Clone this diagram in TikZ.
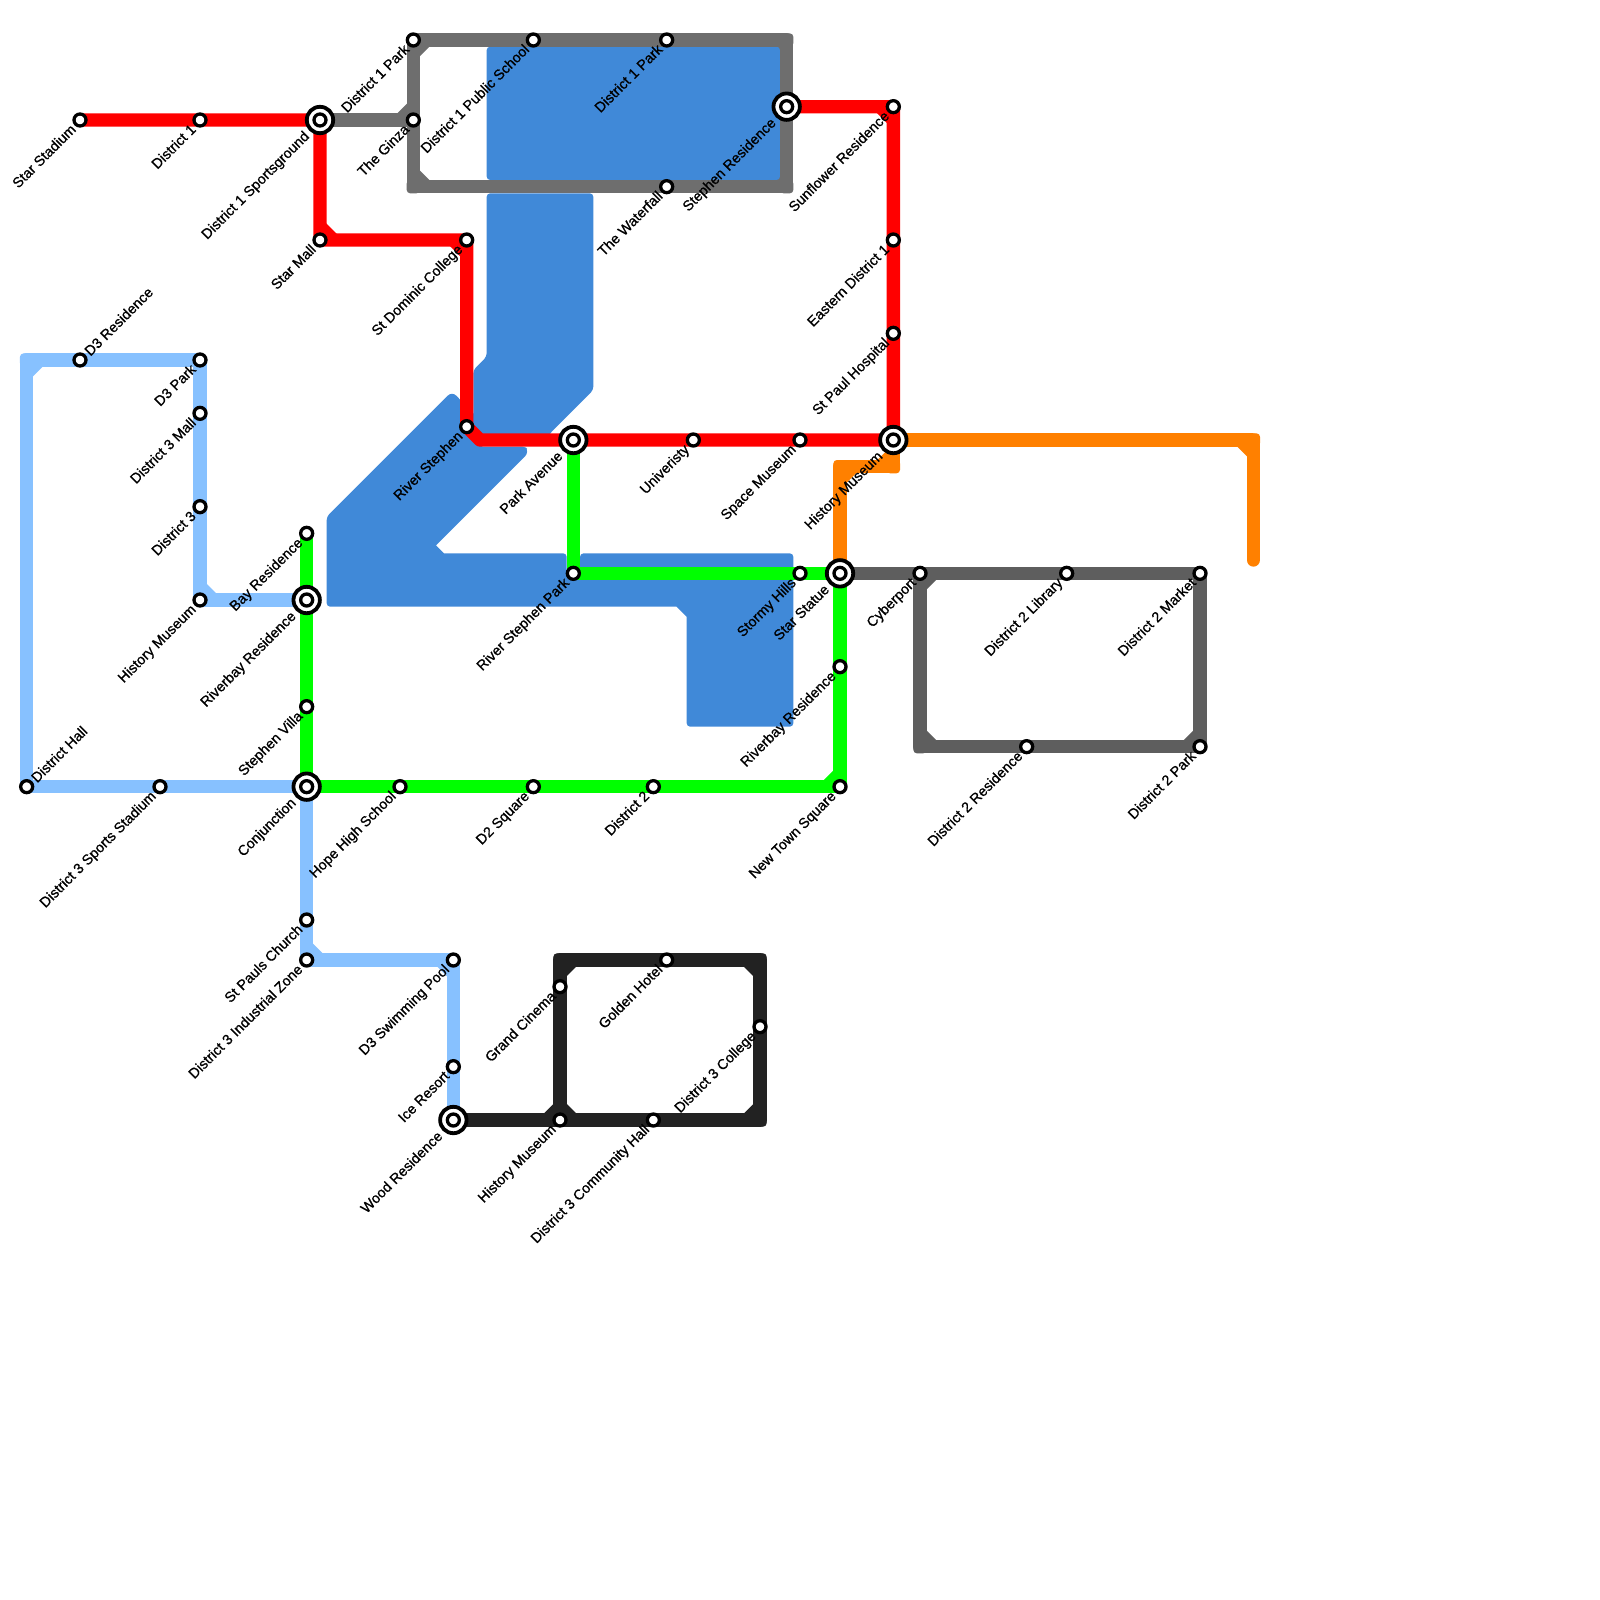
\documentclass[tikz,border=0pt]{standalone}
\usepackage{fontspec}
\setmainfont[FakeBold=0.9]{Liberation Sans}
\pgfdeclarelayer{bg}
\pgfsetlayers{bg,main}
\definecolor{cred}{HTML}{FF0000}
\definecolor{cgreen}{HTML}{00FF00}
\definecolor{corange}{HTML}{FF8000}
\definecolor{clight}{HTML}{87C1FF}
\definecolor{cgrey}{HTML}{6E6E6E}
\definecolor{cdark}{HTML}{5E5E5E}
\definecolor{cblack}{HTML}{222222}
\definecolor{cblock}{HTML}{4089D8}
\tikzset{
  stnmark/.style={circle,draw=black,fill=white,line width=3.3pt,minimum size=12pt,inner sep=0pt},
  stnbig/.style={circle,draw=black,fill=white,line width=3.8pt,minimum size=26.4pt,inner sep=0pt},
  lab/.style={rotate=45,inner sep=0pt,text height=10.2pt,text depth=0pt,font=\fontsize{14.3pt}{14.3pt}\selectfont,text=black},
  lin/.style={line width=13.333pt,line join=round,line cap=butt},
  block/.style={fill=cblock,rounded corners=3.5pt},
}
\newcommand{\stS}[4]{\node[stnmark] (#1) at (#2,#3) {};
  \node[lab,anchor=east] (#1L) at ([shift={(225:9.5pt)}]#1.center) {#4};}
\newcommand{\stU}[4]{\node[stnmark] (#1) at (#2,#3) {};
  \node[lab,anchor=west] (#1L) at ([shift={(45:9.5pt)}]#1.center) {#4};}
\newcommand{\stB}[4]{\node[stnbig] (#1) at (#2,#3) {};
  \node[stnmark] (#1I) at (#2,#3) {};
  \node[lab,anchor=east] (#1L) at ([shift={(225:19pt)}]#1.center) {#4};}
\newcommand{\crn}[2]{\fill[#1,rounded corners=3.5pt] ([shift={(-6.667pt,-6.667pt)}]#2) rectangle ([shift={(6.667pt,6.667pt)}]#2);}
\begin{document}
\begin{tikzpicture}[x=13.3333pt,y=-13.3333pt]
\useasboundingbox (0,0) rectangle (120,120);
% corner points
\coordinate (k1) at (31,14);
\coordinate (k2) at (59,3);
\coordinate (k3) at (59,14);
\coordinate (k4) at (2,27);
\coordinate (k5) at (94,33);
\coordinate (k6) at (94,42);
\coordinate (k7) at (42,72);
\coordinate (k8) at (57,72);
\coordinate (k9) at (57,84);
\coordinate (k10) at (69,56);
\coordinate (k11) at (63,35);
\coordinate (k12) at (67,35);
\coordinate (k13) at (36,33);
% red
\stS{starstadium}{6}{9}{Star Stadium}
\stS{districtone}{15}{9}{District 1}
\stB{sportsground}{24}{9}{District 1 Sportsground}
\stS{starmall}{24}{18}{Star Mall}
\stS{stdominic}{35}{18}{St Dominic College}
\stS{riverstephen}{35}{32}{River Stephen}
\stB{parkavenue}{43}{33}{Park Avenue}
\stS{univ}{52}{33}{Univeristy}
\stS{spacemuseum}{60}{33}{Space Museum}
\stB{historymuseum}{67}{33}{History Museum}
\stS{stpaul}{67}{25}{St Paul Hospital}
\stS{easternone}{67}{18}{Eastern District 1}
\stS{sunflower}{67}{8}{Sunflower Residence}
\stB{stephenres}{59}{8}{Stephen Residence}
% grey
\stS{ginza}{31}{9}{The Ginza}
\stS{dopark}{31}{3}{District 1 Park}
\stS{dopublic}{40}{3}{District 1 Public School}
\stS{doparktwo}{50}{3}{District 1 Park}
\stS{waterfall}{50}{14}{The Waterfall}
% green
\stB{starstatue}{63}{43}{Star Statue}
\stS{stormy}{60}{43}{Stormy Hills}
\stS{rsp}{43}{43}{River Stephen Park}
\stS{riverbayE}{63}{50}{Riverbay Residence}
\stS{newtown}{63}{59}{New Town Square}
\stS{dtwo}{49}{59}{District 2}
\stS{dtwosq}{40}{59}{D2 Square}
\stS{hope}{30}{59}{Hope High School}
\stB{conjunction}{23}{59}{Conjunction}
\stS{villa}{23}{53}{Stephen Villa}
\stB{riverbayW}{23}{45}{Riverbay Residence}
\stS{bayres}{23}{40}{Bay Residence}
% light blue
\stU{districthall}{2}{59}{District Hall}
\stU{dthreeres}{6}{27}{D3 Residence}
\stS{dthreepark}{15}{27}{D3 Park}
\stS{dthreemall}{15}{31}{District 3 Mall}
\stS{dthree}{15}{38}{District 3}
\stS{historyW}{15}{45}{History Museum}
\stS{sportsstad}{12}{59}{District 3 Sports Stadium}
\stS{stpauls}{23}{69}{St Pauls Church}
\stS{industrial}{23}{72}{District 3 Industrial Zone}
\stS{pool}{34}{72}{D3 Swimming Pool}
\stS{ice}{34}{80}{Ice Resort}
\stB{wood}{34}{84}{Wood Residence}
% black
\stS{historyS}{42}{84}{History Museum}
\stS{community}{49}{84}{District 3 Community Hall}
\stS{college}{57}{77}{District 3 College}
\stS{golden}{50}{72}{Golden Hotel}
\stS{cinema}{42}{74}{Grand Cinema}
% dark grey
\stS{cyberport}{69}{43}{Cyberport}
\stS{library}{80}{43}{District 2 Library}
\stS{market}{90}{43}{District 2 Market}
\stS{dtpark}{90}{56}{District 2 Park}
\stS{dtres}{77}{56}{District 2 Residence}
\begin{pgfonlayer}{bg}
% grey filling behind the rounded block corners
\fill[cgrey] (58,3.4) rectangle (58.6,4);
\fill[cgrey] (58,13) rectangle (58.6,13.6);
% blue blocks
\fill[block] (36.5,3.5) -- (58.5,3.5) -- (58.5,13.5) -- (36.5,13.5) -- cycle;
\fill[block] (36.5,14.5) -- (44.5,14.5) -- (44.5,29.25) -- (41.25,32.5) -- (41,33) -- (35.5,33) -- (35.5,27.75) -- (36.5,26.75) -- cycle;
\fill[block] (24.5,38.75) [rounded corners=6pt] -- (33.9,29.35) [rounded corners=3pt] -- (36,31.5) -- (36,33.5) -- (39.4,33.5) [rounded corners=6pt] -- (39.7,33.9) [rounded corners=0pt] -- (32.7,40.9) -- (33.3,41.5) [rounded corners=3.5pt] -- (42.5,41.5) -- (42.5,43) -- (43.5,43) -- (43.5,41.5) -- (59.5,41.5) -- (59.5,54.5) -- (51.5,54.5) [rounded corners=0pt] -- (51.5,46.25) -- (50.75,45.5) [rounded corners=3.5pt] -- (24.5,45.5) -- cycle;
% light blue line
\begin{scope}[every path/.style={lin,draw=clight}]
\draw (districthall.center) -- (k4) -- (dthreeres.center) -- (dthreepark.center) -- (dthreemall.center) -- (dthree.center) -- (historyW.center) -- (riverbayW.center);
\draw (k4) ++(0,1) -- ++(1,-1);
\draw (historyW.center) ++(0,-1) -- ++(1,1);
\draw (districthall.center) -- (sportsstad.center) -- (conjunction.center) -- (stpauls.center) -- (industrial.center) -- (pool.center) -- (ice.center) -- (wood.center);
\draw (industrial.center) ++(0,-1) -- ++(1,1);
\draw (pool.center) ++(-1,0) -- ++(1,1);
\end{scope}
\crn{clight}{k4}
% green line
\begin{scope}[every path/.style={lin,draw=cgreen}]
\draw (bayres.center) -- (riverbayW.center) -- (villa.center) -- (conjunction.center) -- (hope.center) -- (dtwosq.center) -- (dtwo.center) -- (newtown.center) -- (riverbayE.center) -- (starstatue.center) -- (stormy.center) -- (rsp.center) -- (parkavenue.center);
\draw (newtown.center) ++(-1,0) -- ++(1,-1);
\end{scope}
% grey line
\begin{scope}[every path/.style={lin,draw=cgrey}]
\draw (sportsground.center) -- (ginza.center) -- (dopark.center) -- (dopublic.center) -- (doparktwo.center) -- (k2) -- (stephenres.center) -- (k3) -- (waterfall.center) -- (k1) -- (ginza.center);
\draw (ginza.center) ++(-1,0) -- ++(1,-1);
\draw (dopark.center) ++(0,1) -- ++(1,-1);
\draw (k1) ++(0,-1) -- ++(1,1);
\end{scope}
\crn{cgrey}{k1}\crn{cgrey}{k2}\crn{cgrey}{k3}
% dark grey line
\begin{scope}[every path/.style={lin,draw=cdark}]
\draw (starstatue.center) -- (cyberport.center) -- (library.center) -- (market.center) -- (dtpark.center) -- (dtres.center) -- (k10) -- (cyberport.center);
\draw (cyberport.center) ++(0,1) -- ++(1,-1);
\draw (k10) ++(0,-1) -- ++(1,1);
\draw (dtpark.center) ++(-1,0) -- ++(1,-1);
\end{scope}
\crn{cdark}{k10}
% black line
\begin{scope}[every path/.style={lin,draw=cblack}]
\draw (wood.center) -- (historyS.center) -- (community.center) -- (k9) -- (college.center) -- (k8) -- (golden.center) -- (k7) -- (cinema.center) -- (historyS.center);
\draw (k7) ++(0,1) -- ++(1,-1);
\draw (k8) ++(-1,0) -- ++(1,1);
\draw (k9) ++(-1,0) -- ++(1,-1);
\draw (historyS.center) ++(-1,0) -- ++(1,-1);
\draw (historyS.center) ++(0,-1) -- ++(1,1);
\end{scope}
\crn{cblack}{k7}\crn{cblack}{k8}\crn{cblack}{k9}
% orange line
\begin{scope}[every path/.style={lin,draw=corange}]
\draw (historymuseum.center) -- (k5);
\draw[line cap=round] (k5) -- (k6);
\draw (historymuseum.center) -- (k12) -- (k11) -- (starstatue.center);
\draw (k5) ++(-1,0) -- ++(1,1);
\draw (k11) ++(0,1) -- ++(1,-1);
\draw (k12) ++(-1,0) -- ++(1,-1);
\end{scope}
\crn{corange}{k5}\crn{corange}{k11}\crn{corange}{k12}
% red line
\begin{scope}[every path/.style={lin,draw=cred}]
\draw (starstadium.center) -- (districtone.center) -- (sportsground.center) -- (starmall.center) -- (stdominic.center) -- (riverstephen.center) -- (k13) -- (parkavenue.center) -- (univ.center) -- (spacemuseum.center) -- (historymuseum.center) -- (stpaul.center) -- (easternone.center) -- (sunflower.center) -- (stephenres.center);
\draw (starmall.center) ++(0,-1) -- ++(1,1);
\draw (stdominic.center) ++(-1,0) -- ++(1,1);
\draw (sunflower.center) ++(-1,0) -- ++(1,1);
\end{scope}
\end{pgfonlayer}
\end{tikzpicture}
\end{document}
